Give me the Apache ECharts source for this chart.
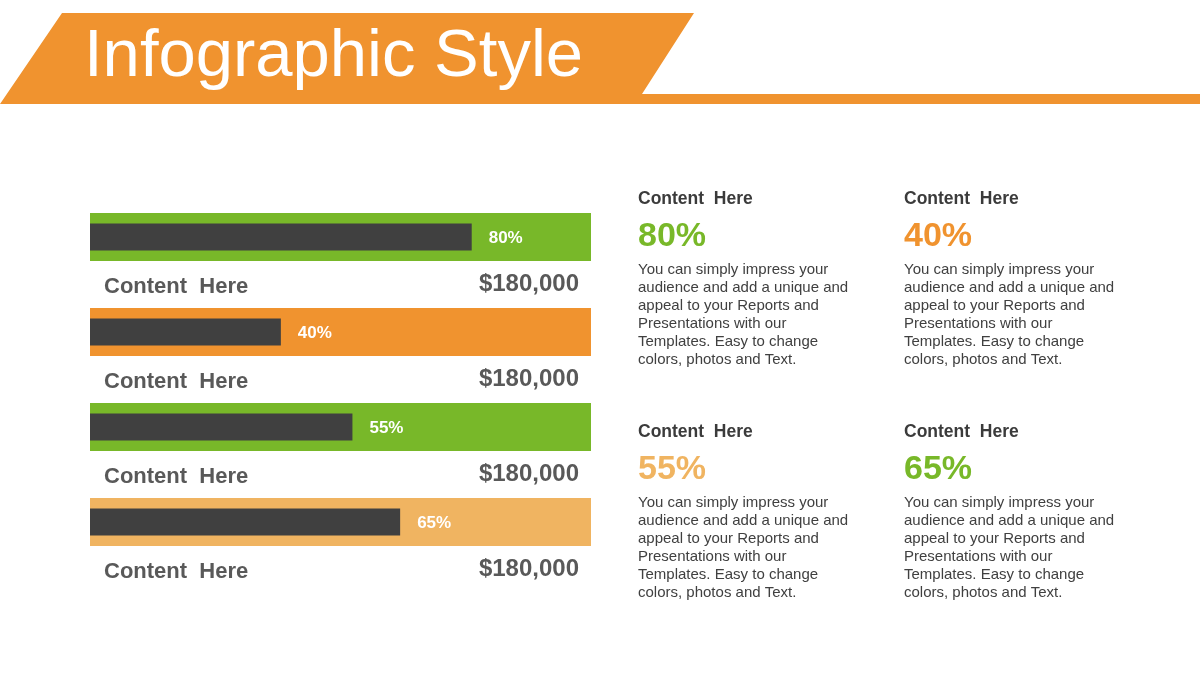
<!DOCTYPE html>
<html>
<head>
<meta charset="utf-8">
<script src="https://cdn.jsdelivr.net/npm/echarts@6/dist/echarts.min.js"></script>
<style>
html,body{margin:0;padding:0;background:#fff;}
#chart{width:1200px;height:675px;}
</style>
</head>
<body>
<div id="chart"></div>
<script>
// ---- data ----
const titleText = 'Infographic Style';
const categories = ['Content  Here', 'Content  Here', 'Content  Here', 'Content  Here'];
const values = [80, 40, 55, 65];
const amounts = ['$180,000', '$180,000', '$180,000', '$180,000'];
const bandColors = ['#78b829', '#f0932f', '#78b829', '#f0b461'];
const axisMax = 105;

const panelTitles = ['Content  Here', 'Content  Here', 'Content  Here', 'Content  Here'];
const panelValues = [80, 40, 55, 65];
const panelColors = ['#78b829', '#f0932f', '#f0b461', '#78b829'];
const panelBody = [
  'You can simply impress your',
  'audience and add a unique and',
  'appeal to your Reports and',
  'Presentations with our',
  'Templates. Easy to change',
  'colors, photos and Text.'
];

// ---- chart ----
const chart = echarts.init(document.getElementById('chart'), null, {renderer: 'canvas'});
const FONT = 'Liberation Sans, Arial, sans-serif';
const ORANGE = '#f0932f';

const graphics = [
  {
    type: 'polygon',
    shape: {points: [[62, 13], [694, 13], [642, 94], [1200, 94], [1200, 104], [0, 104]]},
    style: {fill: ORANGE},
    silent: true
  },
  {
    type: 'text',
    x: 84, y: 58,
    style: {text: titleText, fill: '#ffffff', font: '67px ' + FONT, verticalAlign: 'middle', align: 'left'},
    silent: true
  }
];

const panelPos = [[638, 199], [904, 199], [638, 432], [904, 432]];
panelPos.forEach(function (p, i) {
  graphics.push({
    type: 'text', x: p[0], y: p[1],
    style: {text: panelTitles[i], fill: '#3b3b3b', font: 'bold 17.5px ' + FONT, verticalAlign: 'middle'},
    silent: true
  });
  graphics.push({
    type: 'text', x: p[0], y: p[1] + 38,
    style: {text: panelValues[i] + '%', fill: panelColors[i], font: 'bold 34px ' + FONT, verticalAlign: 'middle'},
    silent: true
  });
  graphics.push({
    type: 'text', x: p[0], y: p[1] + 62,
    style: {text: panelBody.join('\n'), fill: '#404040', font: '15px ' + FONT, lineHeight: 18, verticalAlign: 'top'},
    silent: true
  });
});

const yAxisBase = {
  type: 'category', data: categories, inverse: true, show: false,
  axisLine: {show: false}, axisTick: {show: false}, axisLabel: {show: false}
};

chart.setOption({
  animation: false,
  backgroundColor: '#ffffff',
  grid: {left: 90, width: 501, top: 189.5, height: 380},
  xAxis: {type: 'value', min: 0, max: axisMax, show: false, splitLine: {show: false}},
  yAxis: [Object.assign({}, yAxisBase), Object.assign({}, yAxisBase), Object.assign({}, yAxisBase)],
  series: [
    {
      type: 'bar', yAxisIndex: 0, barWidth: 48, silent: true,
      data: categories.map(function (c, i) {
        return {value: axisMax, itemStyle: {color: bandColors[i]}};
      }),
      label: {
        show: true, position: [14, 74], align: 'left', verticalAlign: 'middle',
        formatter: function (p) { return categories[p.dataIndex]; },
        color: '#595959', fontFamily: FONT, fontWeight: 'bold', fontSize: 22
      }
    },
    {
      type: 'bar', yAxisIndex: 1, barWidth: 27, silent: true,
      data: values,
      itemStyle: {color: '#404040'},
      label: {
        show: true, position: 'right', distance: 17, offset: [0, 1],
        formatter: '{c}%', color: '#ffffff', fontFamily: FONT, fontWeight: 'bold', fontSize: 17
      }
    },
    {
      type: 'bar', yAxisIndex: 2, barWidth: 48, silent: true,
      data: amounts.map(function () { return axisMax; }),
      itemStyle: {color: 'rgba(0,0,0,0)'},
      label: {
        show: true, position: [489, 71], align: 'right', verticalAlign: 'middle',
        formatter: function (p) { return amounts[p.dataIndex]; },
        color: '#595959', fontFamily: FONT, fontWeight: 'bold', fontSize: 24
      }
    }
  ],
  graphic: graphics
});
</script>
</body>
</html>
